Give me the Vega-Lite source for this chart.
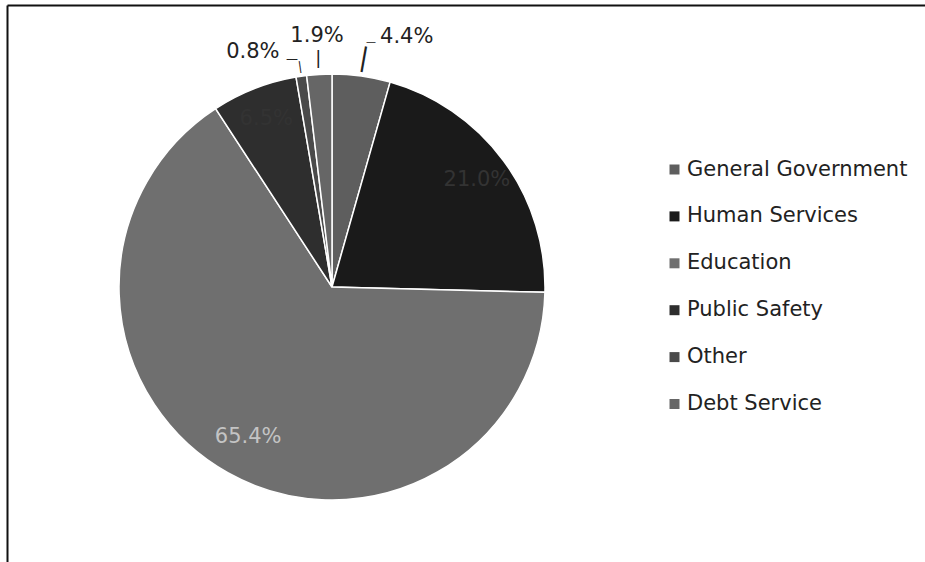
{
  "$schema": "https://vega.github.io/schema/vega-lite/v6.json",
  "width": 918,
  "height": 557,
  "autosize": {"type": "none"},
  "padding": {"left": 7, "top": 5, "right": 0, "bottom": 0},
  "background": "white",
  "view": {"stroke": "transparent", "fill": "white"},
  "config": {"view": {"stroke": "transparent"}, "font": "DejaVu Sans"},
  "data": {
    "values": [
      {"cat": "General Government", "value": 4.4, "label": "4.4%", "idx": 1},
      {"cat": "Human Services", "value": 21.0, "label": "21.0%", "idx": 2},
      {"cat": "Education", "value": 65.4, "label": "65.4%", "idx": 3},
      {"cat": "Public Safety", "value": 6.5, "label": "6.5%", "idx": 4},
      {"cat": "Other", "value": 0.8, "label": "0.8%", "idx": 5},
      {"cat": "Debt Service", "value": 1.9, "label": "1.9%", "idx": 6}
    ]
  },
  "layer": [
    {
      "mark": {"type": "point", "opacity": 0},
      "encoding": {
        "x": {"field": "value", "type": "quantitative", "axis": {"orient": "top", "domain": true, "domainColor": "#111", "domainWidth": 2, "ticks": false, "labels": false, "grid": false, "title": null}},
        "y": {"field": "value", "type": "quantitative", "axis": {"orient": "left", "domain": true, "domainColor": "#111", "domainWidth": 2, "ticks": false, "labels": false, "grid": false, "title": null}}
      }
    },
    {
      "mark": {"type": "arc", "outerRadius": 213, "x": 325, "y": 282, "stroke": "white", "strokeWidth": 1.5},
      "encoding": {
        "theta": {"field": "value", "type": "quantitative", "stack": true},
        "color": {
          "field": "cat", "type": "nominal",
          "scale": {
            "domain": ["General Government", "Human Services", "Education", "Public Safety", "Other", "Debt Service"],
            "range": ["#5e5e5e", "#1a1a1a", "#6f6f6f", "#2e2e2e", "#4a4a4a", "#666666"]
          },
          "legend": {
            "title": null, "orient": "none", "legendX": 657, "legendY": 154,
            "symbolType": "square", "symbolSize": 100, "symbolStrokeWidth": 0,
            "labelFontSize": 21, "labelFont": "DejaVu Sans", "labelColor": "#222",
            "rowPadding": 24.9, "labelOffset": 2, "padding": 0, "labelLimit": 400
          }
        },
        "order": {"field": "idx", "type": "quantitative"}
      }
    },
    {
      "mark": {"type": "text", "x": 325, "y": 282, "radius": 180, "fontSize": 21, "color": "#333333"},
      "encoding": {
        "theta": {"field": "value", "type": "quantitative", "stack": true},
        "detail": {"field": "cat", "type": "nominal"},
        "order": {"field": "idx", "type": "quantitative"},
        "text": {"condition": {"test": "datum.cat === 'Human Services' || datum.cat === 'Public Safety'", "field": "label", "type": "nominal"}, "value": ""}
      }
    },
    {
      "mark": {"type": "text", "x": 325, "y": 282, "radius": 172, "fontSize": 21, "color": "#c4c4c4"},
      "encoding": {
        "theta": {"field": "value", "type": "quantitative", "stack": true},
        "detail": {"field": "cat", "type": "nominal"},
        "order": {"field": "idx", "type": "quantitative"},
        "text": {"condition": {"test": "datum.cat === 'Education'", "field": "label", "type": "nominal"}, "value": ""}
      }
    },
    {
      "mark": {"type": "text", "x": 325, "y": 282, "radius": 252, "dx": 40, "fontSize": 21, "color": "#222"},
      "encoding": {
        "theta": {"field": "value", "type": "quantitative", "stack": true},
        "detail": {"field": "cat", "type": "nominal"},
        "order": {"field": "idx", "type": "quantitative"},
        "text": {"condition": {"test": "datum.cat === 'General Government'", "field": "label", "type": "nominal"}, "value": ""}
      }
    },
    {
      "mark": {"type": "text", "x": 325, "y": 282, "radius": 251, "fontSize": 21, "color": "#222"},
      "encoding": {
        "theta": {"field": "value", "type": "quantitative", "stack": true},
        "detail": {"field": "cat", "type": "nominal"},
        "order": {"field": "idx", "type": "quantitative"},
        "text": {"condition": {"test": "datum.cat === 'Debt Service'", "field": "label", "type": "nominal"}, "value": ""}
      }
    },
    {
      "mark": {"type": "text", "x": 325, "y": 282, "radius": 237, "dx": -45, "fontSize": 21, "color": "#222"},
      "encoding": {
        "theta": {"field": "value", "type": "quantitative", "stack": true},
        "detail": {"field": "cat", "type": "nominal"},
        "order": {"field": "idx", "type": "quantitative"},
        "text": {"condition": {"test": "datum.cat === 'Other'", "field": "label", "type": "nominal"}, "value": ""}
      }
    },
    {
      "mark": {"type": "text", "x": 325, "y": 282, "radius": 228, "fontSize": 18, "color": "#222", "baseline": "middle"},
      "encoding": {
        "theta": {"field": "value", "type": "quantitative", "stack": true},
        "detail": {"field": "cat", "type": "nominal"},
        "order": {"field": "idx", "type": "quantitative"},
        "text": {"condition": {"test": "datum.cat === 'Debt Service'", "value": "|"}, "value": ""}
      }
    },
    {
      "mark": {"type": "text", "x": 325, "y": 282, "radius": 231, "angle": 10, "fontSize": 26, "color": "#222", "baseline": "middle"},
      "encoding": {
        "theta": {"field": "value", "type": "quantitative", "stack": true},
        "detail": {"field": "cat", "type": "nominal"},
        "order": {"field": "idx", "type": "quantitative"},
        "text": {"condition": {"test": "datum.cat === 'General Government'", "value": "|"}, "value": ""}
      }
    },
    {
      "mark": {"type": "text", "x": 325, "y": 282, "radius": 246, "dx": 5, "dy": -1, "fontSize": 10, "color": "#222", "baseline": "middle"},
      "encoding": {
        "theta": {"field": "value", "type": "quantitative", "stack": true},
        "detail": {"field": "cat", "type": "nominal"},
        "order": {"field": "idx", "type": "quantitative"},
        "text": {"condition": {"test": "datum.cat === 'General Government'", "value": "—"}, "value": ""}
      }
    },
    {
      "mark": {"type": "text", "x": 325, "y": 282, "radius": 223, "angle": -8, "fontSize": 12, "color": "#222", "baseline": "middle"},
      "encoding": {
        "theta": {"field": "value", "type": "quantitative", "stack": true},
        "detail": {"field": "cat", "type": "nominal"},
        "order": {"field": "idx", "type": "quantitative"},
        "text": {"condition": {"test": "datum.cat === 'Other'", "value": "|"}, "value": ""}
      }
    },
    {
      "mark": {"type": "text", "x": 325, "y": 282, "radius": 230, "dx": -7, "fontSize": 12, "color": "#222", "baseline": "middle"},
      "encoding": {
        "theta": {"field": "value", "type": "quantitative", "stack": true},
        "detail": {"field": "cat", "type": "nominal"},
        "order": {"field": "idx", "type": "quantitative"},
        "text": {"condition": {"test": "datum.cat === 'Other'", "value": "—"}, "value": ""}
      }
    }
  ]
}
